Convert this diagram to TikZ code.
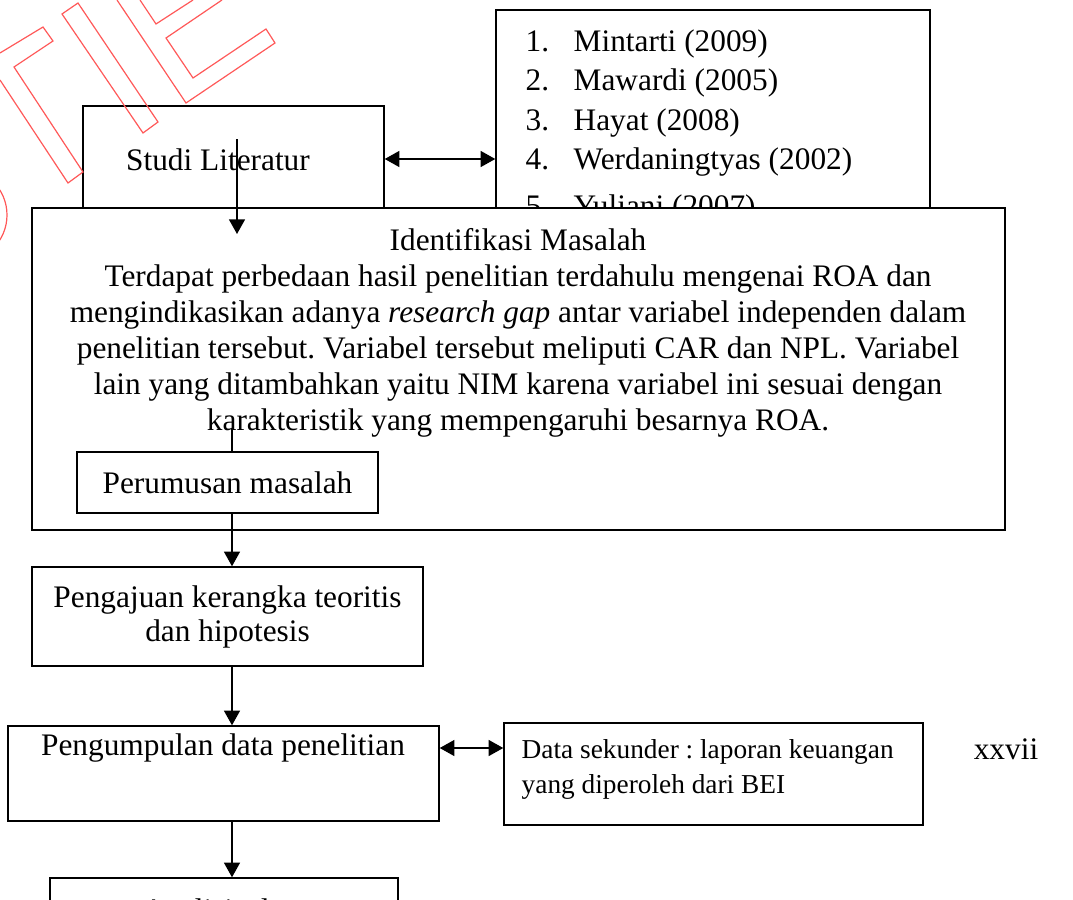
\documentclass[tikz,border=0pt]{standalone}
\usepackage{fontspec}
\setmainfont{Liberation Serif}
\usetikzlibrary{arrows.meta}
\frenchspacing

\begin{document}
\begin{tikzpicture}[x=0.75pt,y=-0.75pt,line width=1.1pt,
  >={Triangle[length=11pt,width=12pt]},
  kotak/.style 2 args={draw,fill=white,minimum width=#1*0.75pt,
    minimum height=#2*0.75pt,inner sep=0pt},
  teks/.style={inner sep=0pt,font=\fontsize{23.5pt}{27pt}\selectfont},
  tanda/.style={draw=red!65,line width=0.9pt}]
  \useasboundingbox (0,0) rectangle (1073,899);
  \clip (0,0) rectangle (1073,899);
  % kotak atas
  \node[kotak={301}{106}] (studi) at (233.5,159) {};
  \node[teks] (studiT) at (218,160) {Studi Literatur};
  \node[kotak={434}{298}] (pustaka) at (713,159) {};
  \node[teks,anchor=north west,align=left,
    font=\fontsize{23.5pt}{29.5pt}\selectfont] (daftar) at (525,29)
    {\makebox[36pt][l]{1.}Mintarti (2009)\\
     \makebox[36pt][l]{2.}Mawardi (2005)\\
     \makebox[36pt][l]{3.}Hayat (2008)\\
     \makebox[36pt][l]{4.}Werdaningtyas (2002)\\[6pt]
     \makebox[36pt][l]{5.}Yuliani (2007)};
  \draw[<->] (studi.east) -- (pustaka.west);
  % identifikasi
  \node[kotak={973}{322}] (masalah) at (518.5,369) {};
  \node[teks,anchor=north,align=center] (masalahT) at (518,228)
    {Identifikasi Masalah\\
     Terdapat perbedaan hasil penelitian terdahulu mengenai ROA dan\\
     mengindikasikan adanya \textit{research gap} antar variabel independen dalam\\
     penelitian tersebut. Variabel tersebut meliputi CAR dan NPL. Variabel\\
     lain yang ditambahkan yaitu NIM karena variabel ini sesuai dengan\\
     karakteristik yang mempengaruhi besarnya ROA.};
  \coordinate (s1) at (237,139);
  \coordinate (s2) at (237,234);
  \draw[->] (s1) -- (s2);
  \node[kotak={301}{61},teks] (rumusan) at (227.5,482.5) {Perumusan masalah};
  \coordinate (r1) at (232,428);
  \draw (r1) -- (r1 |- rumusan.north);
  % alur bawah
  \node[kotak={391}{99},teks,align=center,
    font=\fontsize{23.5pt}{25.5pt}\selectfont] (kerangka) at (227.5,616.5)
    {Pengajuan kerangka teoritis\\dan hipotesis};
  \node[kotak={431}{95}] (kumpul) at (223.5,773.5) {};
  \node[teks] (kumpulT) at (223,748) {Pengumpulan data penelitian};
  \node[kotak={419}{102}] (sekunder) at (713.5,774) {};
  \node[teks,anchor=north west,align=left,
    font=\fontsize{20.5pt}{26.25pt}\selectfont] (sekunderT) at (521,739)
    {Data sekunder : laporan keuangan\\yang diperoleh dari BEI};
  \node[teks] (hal) at (1006,749) {xxvii};
  \node[kotak={348}{64},teks] (analisis) at (224,910) {Analisis data};
  \draw[->] (r1 |- rumusan.south) -- (r1 |- kerangka.north);
  \draw[->] (r1 |- kerangka.south) -- (r1 |- kumpul.north);
  \draw[<->] (kumpulT -| kumpul.east) -- (kumpulT -| sekunder.west);
  \draw[->] (r1 |- kumpul.south) -- (r1 |- analisis.north);
  % watermark
  \draw[tanda] (0,53) -- (43,27) -- (53,41) -- (14,67) -- (83,172) -- (68,183) -- (0,80);
  \draw[tanda] (62,14) -- (78,3) -- (158,122) -- (143,133) -- cycle;
  \draw[tanda] (117,0) -- (186,103) -- (275,43) -- (266,29) -- (193,78) -- (166,38) -- (222,0);
  \draw[tanda] (140,0) -- (156,24) -- (193,0);
  \draw[tanda] (-40,215) circle (47);
\end{tikzpicture}
\end{document}
